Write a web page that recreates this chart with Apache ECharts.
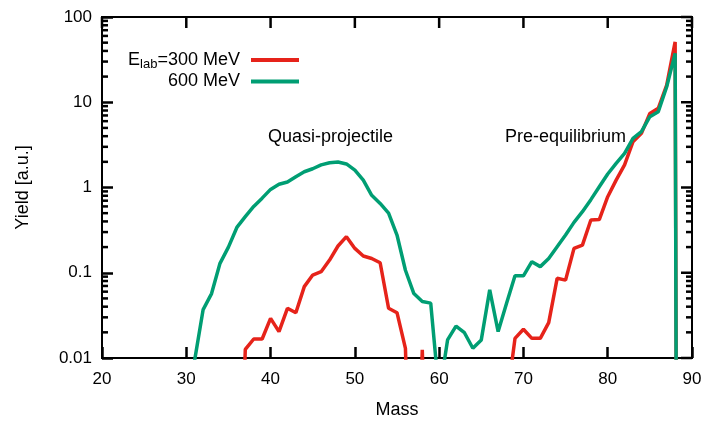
<!DOCTYPE html>
<html><head><meta charset="utf-8">
<script src="https://cdn.jsdelivr.net/npm/echarts@6/dist/echarts.min.js"></script>
<style>html,body{margin:0;padding:0;background:#fff}#c{width:705px;height:421px}</style>
</head><body><div id="c"></div><script>
const masses = [30,31,32,33,34,35,36,37,38,39,40,41,42,43,44,45,46,47,48,49,50,51,52,53,54,55,56,57,58,59,60,61,62,63,64,65,66,67,68,69,70,71,72,73,74,75,76,77,78,79,80,81,82,83,84,85,86,87,88,89];
const yield300 = [null,null,null,null,null,null,1e-5,0.0126,0.0167,0.0167,0.0292,0.0204,0.0383,0.034,0.0687,0.094,0.103,0.141,0.206,0.265,0.193,0.157,0.147,0.131,0.0383,0.034,0.013,1e-5,0.0125,1e-5,null,null,null,null,null,null,null,null,0.003,0.017,0.0217,0.017,0.017,0.026,0.086,0.082,0.193,0.211,0.416,0.42,0.78,1.22,1.84,3.45,4.32,7.4,8.5,15.9,51,1e-30];
const yield600 = [1e-4,0.0095,0.037,0.057,0.129,0.20,0.34,0.455,0.60,0.75,0.95,1.09,1.16,1.34,1.53,1.66,1.84,1.95,1.99,1.89,1.60,1.22,0.81,0.65,0.50,0.277,0.107,0.057,0.046,0.044,0.0037,0.0163,0.0237,0.0198,0.013,0.0163,0.063,0.0204,0.044,0.092,0.092,0.135,0.118,0.147,0.202,0.277,0.39,0.52,0.72,1.02,1.44,1.92,2.51,3.77,4.52,6.77,7.76,15.2,37.5,1e-30];
const xMajorTicks = [20,30,40,50,60,70,80,90];
const yMajorTicks = [0.01,0.1,1,10,100];
const yMinorTicks = [0.02,0.03,0.04,0.05,0.06,0.07,0.08,0.09,0.2,0.3,0.4,0.5,0.6,0.7,0.8,0.9,2,3,4,5,6,7,8,9,20,30,40,50,60,70,80,90];
const seriesNames = ['300','600'];
const annotations = ['Quasi-projectile','Pre-equilibrium'];

const FONT = '"Liberation Sans", Arial, sans-serif';
const MAJOR = 11, MINOR = 6, TW = 2.5;
const chart = echarts.init(document.getElementById('c'));
const toPairs = arr => masses.map((m,i)=> arr[i]==null ? [m,'-'] : [m, arr[i]]);
const axLine = {show:true, onZero:false, lineStyle:{color:'#000', width:2}};
chart.setOption({
  animation:false,
  backgroundColor:'#fff',
  grid:{left:102, right:13, top:17, bottom:63, outerBoundsMode:'none',
        show:true, borderColor:'#000', borderWidth:2, backgroundColor:'transparent'},
  xAxis:{
    type:'value', min:20, max:90, interval:10,
    axisLine: axLine,
    axisTick:{show:true, inside:true, length:MAJOR, lineStyle:{color:'#000', width:TW}},
    axisLabel:{show:true, color:'#000', fontSize:17, fontFamily:FONT, margin:13},
    splitLine:{show:false},
    name:'Mass', nameLocation:'middle', nameGap:43,
    nameTextStyle:{color:'#000', fontSize:18, fontFamily:FONT}
  },
  yAxis:{
    type:'log', min:0.01, max:100, logBase:10,
    axisLine: axLine,
    axisTick:{show:true, inside:true, length:MAJOR, lineStyle:{color:'#000', width:TW}},
    axisLabel:{show:true, color:'#000', fontSize:17, fontFamily:FONT, margin:10, formatter: v => String(v)},
    splitLine:{show:false},
    name:'Yield [a.u.]', nameLocation:'middle', nameGap:70,
    nameTextStyle:{color:'#000', fontSize:18, fontFamily:FONT}
  },
  legend:{
    orient:'vertical', align:'right', right:406, top:51, padding:0, itemGap:2,
    icon:'rect', itemWidth:48, itemHeight:4,
    data: seriesNames,
    formatter: n => n==='300' ? '{n|E}{s|lab}{n|=300 MeV}' : '{n|600 MeV}',
    textStyle:{color:'#000', fontFamily:FONT, fontSize:18, padding:[0,6,0,0],
      rich:{ n:{fontSize:18, fontFamily:FONT, color:'#000'},
             s:{fontSize:13, fontFamily:FONT, color:'#000', padding:[8,0,0,0]} }}
  },
  series:[
    {name:seriesNames[0], type:'line', data:toPairs(yield300), showSymbol:false, symbol:'none',
      clip:true, lineStyle:{color:'#e6231a', width:3.5}, itemStyle:{color:'#e6231a'}},
    {name:seriesNames[1], type:'line', data:toPairs(yield600), showSymbol:false, symbol:'none',
      clip:true, lineStyle:{color:'#009e73', width:3.5}, itemStyle:{color:'#009e73'}}
  ]
});

// mirrored ticks (top / right) and logarithmic minor ticks, placed through the axes' own scales
const xL = chart.convertToPixel({xAxisIndex:0}, 20);
const xR = chart.convertToPixel({xAxisIndex:0}, 90);
const yT = chart.convertToPixel({yAxisIndex:0}, 100);
const tickStyle = {stroke:'#000', lineWidth:TW};
const g = [];
const seg = (x1,y1,x2,y2) => g.push({type:'line', silent:true, z:10, shape:{x1,y1,x2,y2}, style:tickStyle});
xMajorTicks.forEach(v => { const x = chart.convertToPixel({xAxisIndex:0}, v); seg(x, yT, x, yT+MAJOR); });
yMajorTicks.forEach(v => { const y = chart.convertToPixel({yAxisIndex:0}, v); seg(xR, y, xR-MAJOR, y); });
yMinorTicks.forEach(v => { const y = chart.convertToPixel({yAxisIndex:0}, v); seg(xL, y, xL+MINOR, y); seg(xR, y, xR-MINOR, y); });
g.push({type:'text', left:268, top:128, style:{text:annotations[0], fill:'#000', font:'18px '+FONT}});
g.push({type:'text', left:505, top:128, style:{text:annotations[1], fill:'#000', font:'18px '+FONT}});
chart.setOption({graphic:g});
</script></body></html>
